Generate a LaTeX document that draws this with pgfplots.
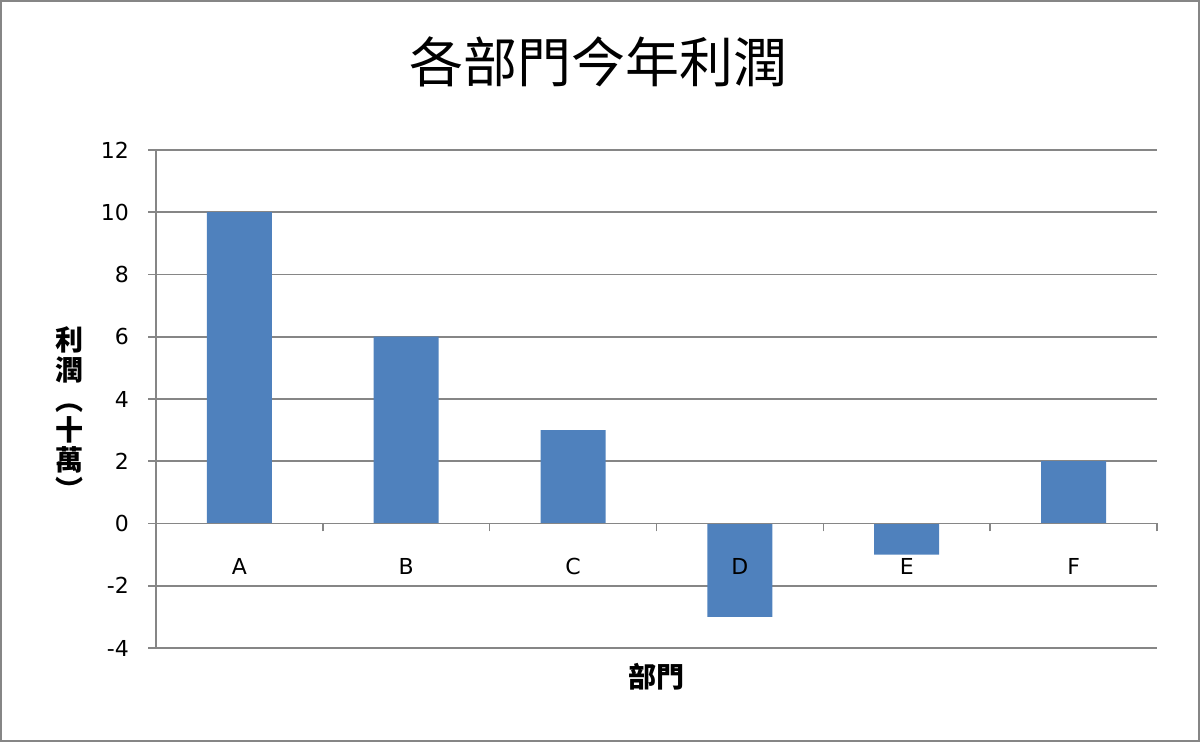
\documentclass[border=0pt]{standalone}
\usepackage{fontspec}
\setmainfont{DejaVu Sans}
\newfontfamily\cjk{Noto Sans CJK TC}
\usepackage{pgfplots}
\pgfplotsset{compat=1.18}
\definecolor{barblue}{HTML}{4F81BD}
\definecolor{gridgray}{HTML}{868686}
\pgfplotsset{
  common/.style={
    at={(78pt,47pt)}, anchor=south west,
    scale only axis,
    width=500.5pt, height=249pt,
    xmin=-0.5, xmax=5.5,
    ymin=-4, ymax=12,
    ytick={-4,-2,...,12},
    xtick={0,...,5},
  },
}
\begin{document}
\begin{tikzpicture}
  \draw[gridgray, line width=1pt] (0.5pt,0.5pt) rectangle (599.5pt,370.5pt);
  \node[font=\cjk\fontsize{27}{30}\selectfont] at (299pt,340pt) {各部門今年利潤};
  % grid only, behind the bars
  \begin{axis}[
    common,
    axis line style={draw=none},
    tick style={draw=none},
    ymajorgrids,
    major grid style={gridgray, line width=0.8pt},
    xticklabels={}, yticklabels={},
  ]
  \end{axis}
  % bars, axis lines, ticks and labels on top
  \begin{axis}[
    common,
    axis on top,
    xticklabels={A,B,C,D,E,F},
    minor xtick={-0.5,0.5,...,5.5},
    every major x tick/.append style={draw=none},
    axis y line=left,
    axis x line=middle,
    axis line style={-, gridgray, line width=0.8pt},
    tick style={gridgray, line width=0.8pt},
    major tick length=4pt, minor tick length=4pt,
    tick align=outside,
    tick label style={font=\fontsize{11}{13}\selectfont},
    /pgf/number format/assume math mode=true,
    xticklabel style={yshift=-10pt},
    yticklabel style={xshift=-6pt},
    xlabel={部門},
    xlabel style={at={(rel axis cs:0.5,0)}, anchor=north, yshift=-4pt,
      font=\cjk\bfseries\fontsize{14}{16}\selectfont},
    ylabel={利\\潤\\︵\\十\\萬\\︶},
    ylabel style={at={(rel axis cs:0,0.47)}, anchor=center, rotate=-90,
      xshift=-43pt, align=center,
      font=\cjk\bfseries\fontsize{14}{15}\selectfont},
    ybar, bar width=32.5pt,
  ]
    \addplot[fill=barblue, draw=none] coordinates {
      (0,10) (1,6) (2,3) (3,-3) (4,-1) (5,2)
    };
  \end{axis}
\end{tikzpicture}
\end{document}
